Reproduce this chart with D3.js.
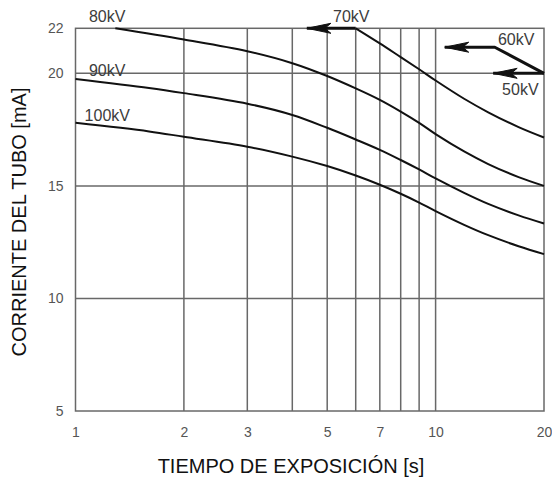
<!DOCTYPE html>
<html>
<head>
<meta charset="utf-8">
<script src="https://cdn.jsdelivr.net/npm/d3@7"></script>
<style>
  html, body { margin: 0; padding: 0; background: #fff; }
  svg { display: block; font-family: "Liberation Sans", Arial, sans-serif; }
</style>
</head>
<body>
<svg id="chart" width="552" height="480"></svg>
<script>
// Exposure time (s) and tube current (mA) for each tube voltage
const times80 = [1.29, 2, 3, 4, 5, 6, 7, 8, 9, 10, 12, 14, 17, 20];
const current80 = [22, 21.5, 20.98, 20.45, 19.88, 19.33, 18.82, 18.3, 17.8, 17.3, 16.53, 15.97, 15.39, 15.0];

const times90 = [1, 1.6, 2, 3, 4, 5, 6, 7, 8, 9, 10, 12, 14, 17, 20];
const current90 = [19.75, 19.35, 19.12, 18.65, 18.15, 17.58, 17.06, 16.6, 16.15, 15.73, 15.33, 14.69, 14.2, 13.69, 13.33];

const times100 = [1, 1.6, 2, 3, 4, 5, 6, 7, 8, 9, 10, 12, 14, 17, 20];
const current100 = [17.8, 17.42, 17.18, 16.74, 16.3, 15.88, 15.46, 15.05, 14.65, 14.26, 13.88, 13.27, 12.81, 12.32, 11.97];

const times70 = [6, 7, 8, 9, 10, 12, 14, 17, 20];
const current70 = [22, 21.33, 20.72, 20.18, 19.68, 18.87, 18.27, 17.61, 17.15];

// Axis ticks and grid
const xTickLabels = [1, 2, 3, 5, 7, 10, 20];
const xGrid = [2, 3, 4, 5, 6, 7, 8, 9, 10];
const yTickLabels = [5, 10, 15, 20, 22];
const yGrid = [10, 15, 20];

// Voltage labels: [text, time, current]
const labelText = ["80kV", "90kV", "100kV", "70kV", "60kV", "50kV"];
const labelTime = [1.09, 1.09, 1.06, 5.19, 14.9, 15.3];
const labelCurrent = [22.3, 19.86, 17.86, 22.3, 21.28, 19.05];

// Arrowed limit lines: polyline vertices [time, current], arrow tip is the last point
const arrow70 = [[6, 22], [4.39, 22]];
const arrow60 = [[20, 20], [14.6, 21.16], [10.6, 21.16]];
const arrow50 = [[20, 20], [14.45, 20]];

const svg = d3.select("#chart");
const plotLeft = 75.5, plotRight = 544, plotTop = 28.3, plotBottom = 411;

const x = d3.scaleLog().domain([1, 20]).range([plotLeft, plotRight]);
const y = d3.scaleLinear().domain([5, 22]).range([plotBottom, plotTop]);

const gridColor = "#686868";

// Grid lines
svg.append("g").selectAll("line").data(xGrid).join("line")
  .attr("x1", d => x(d)).attr("x2", d => x(d))
  .attr("y1", plotTop).attr("y2", plotBottom)
  .attr("stroke", gridColor).attr("stroke-width", 1.5);
svg.append("g").selectAll("line").data(yGrid).join("line")
  .attr("x1", plotLeft).attr("x2", plotRight)
  .attr("y1", d => y(d)).attr("y2", d => y(d))
  .attr("stroke", gridColor).attr("stroke-width", 1.5);

// Frame
svg.append("rect")
  .attr("x", plotLeft).attr("y", plotTop)
  .attr("width", plotRight - plotLeft).attr("height", plotBottom - plotTop)
  .attr("fill", "none").attr("stroke", gridColor).attr("stroke-width", 1.5);

// Axes (tick text only; the frame and grid draw the lines)
const xAxis = svg.append("g")
  .attr("transform", `translate(0,${plotBottom})`)
  .call(d3.axisBottom(x).tickValues(xTickLabels).tickFormat(d3.format("d")).tickSize(0).tickPadding(16));
const yAxis = svg.append("g")
  .attr("transform", `translate(${plotLeft},0)`)
  .call(d3.axisLeft(y).tickValues(yTickLabels).tickFormat(d3.format("d")).tickSize(0).tickPadding(12));
[xAxis, yAxis].forEach(g => {
  g.select(".domain").remove();
  g.selectAll("text")
    .attr("font-family", "Liberation Sans, Arial, sans-serif")
    .attr("font-size", 14).attr("fill", "#555");
});

// Curves
const line = d3.line()
  .x(d => x(d[0])).y(d => y(d[1]))
  .curve(d3.curveCatmullRom.alpha(0.5));
const series = [
  [times80, current80],
  [times90, current90],
  [times100, current100],
  [times70, current70]
];
svg.append("g").selectAll("path").data(series).join("path")
  .attr("d", s => line(d3.zip(s[0], s[1])))
  .attr("fill", "none").attr("stroke", "#111").attr("stroke-width", 2);

// Arrowed limit lines
const plain = d3.line().x(d => x(d[0])).y(d => y(d[1]));
[arrow70, arrow60, arrow50].forEach(pts => {
  svg.append("path")
    .attr("d", plain(pts))
    .attr("fill", "none").attr("stroke", "#111").attr("stroke-width", 3)
    .attr("stroke-linejoin", "round");
  const tip = pts[pts.length - 1];
  const tx = x(tip[0]), ty = y(tip[1]);
  svg.append("path")
    .attr("d", `M${tx},${ty} L${tx + 24},${ty - 5} L${tx + 18},${ty} L${tx + 24},${ty + 5} Z`)
    .attr("fill", "#111").attr("stroke", "#111").attr("stroke-width", 1)
    .attr("stroke-linejoin", "miter");
});

// Voltage labels
svg.append("g").selectAll("text").data(labelText).join("text")
  .attr("x", (d, i) => x(labelTime[i]))
  .attr("y", (d, i) => y(labelCurrent[i]))
  .attr("font-size", 16).attr("fill", "#3c3c3c")
  .text(d => d);

// Axis titles
svg.append("text")
  .attr("x", 291).attr("y", 473)
  .attr("text-anchor", "middle")
  .attr("font-size", 20).attr("fill", "#111")
  .text("TIEMPO DE EXPOSICIÓN [s]");
svg.append("text")
  .attr("transform", "translate(26,222) rotate(-90)")
  .attr("text-anchor", "middle")
  .attr("font-size", 20).attr("fill", "#111")
  .text("CORRIENTE DEL TUBO [mA]");
</script>
</body>
</html>
